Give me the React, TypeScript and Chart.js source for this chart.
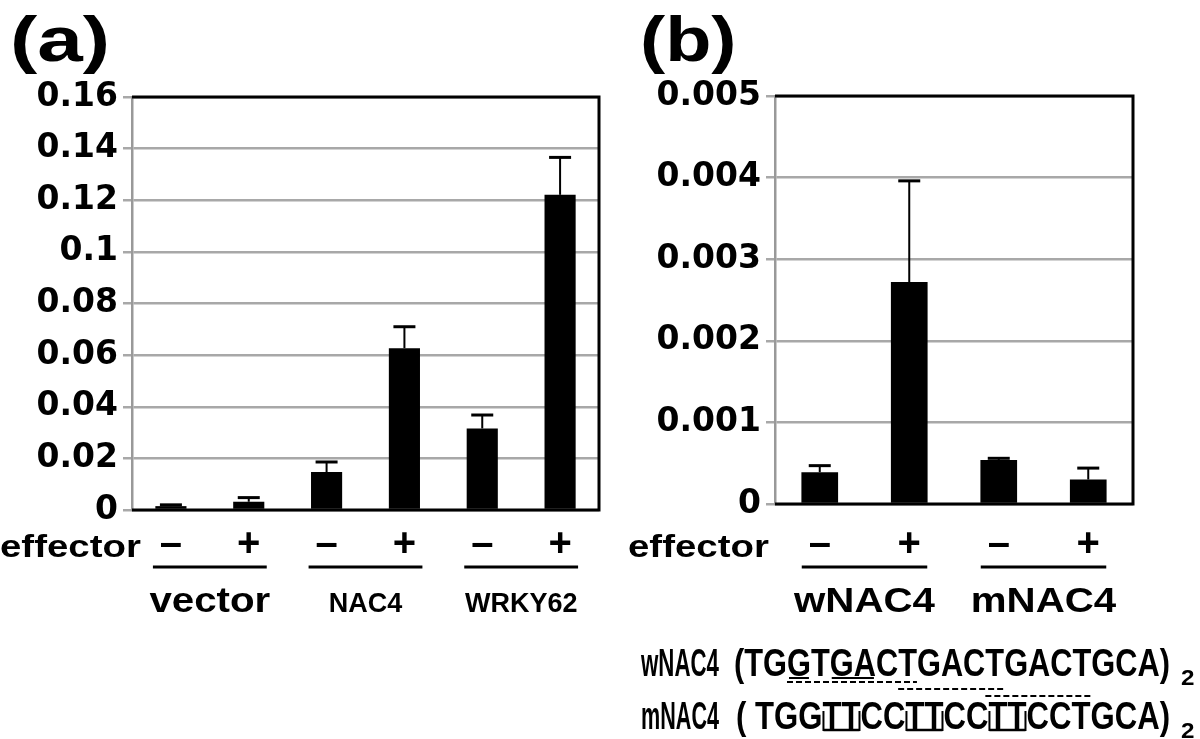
import React, { useEffect, useRef } from 'react';
import { Chart, registerables } from 'chart.js';

Chart.register(...registerables);

// ---------- data ----------
const signsA = ['–', '+', '–', '+', '–', '+'];
const valuesA = [0.0015, 0.0032, 0.0147, 0.0627, 0.0316, 0.1221];
const errorsA = [0.0005, 0.0016, 0.0039, 0.0083, 0.0052, 0.0145];
const groupsA = ['vector', 'NAC4', 'WRKY62'];
const yTicksA = [0, 0.02, 0.04, 0.06, 0.08, 0.1, 0.12, 0.14, 0.16];

const signsB = ['–', '+', '–', '+'];
const valuesB = [0.00039, 0.00272, 0.00054, 0.0003];
const errorsB = [0.00008, 0.00124, 0.00002, 0.00014];
const groupsB = ['wNAC4', 'mNAC4'];
const yTicksB = [0, 0.001, 0.002, 0.003, 0.004, 0.005];

const seqNames = ['wNAC4', 'mNAC4'];
const seqTexts = ['(TGGTGACTGACTGACTGCA)', '( TGGTTCCTTCCTTCCTGCA)'];
const seqRepeat = '2';

// ---------- styles ----------
const FONT = '"Liberation Sans", Arial, Helvetica, sans-serif';
const TICKFONT = '"DejaVu Sans", "Liberation Sans", sans-serif';
const GRID = '#a8a8a8';

function txt(
  ctx: CanvasRenderingContext2D,
  s: string,
  x: number,
  y: number,
  size: number,
  align: CanvasTextAlign = 'left',
  sx = 1,
  width?: number
) {
  ctx.save();
  ctx.font = `bold ${size}px ${FONT}`;
  ctx.textBaseline = 'alphabetic';
  ctx.textAlign = align;
  ctx.fillStyle = '#000';
  let scale = sx;
  if (width) scale = width / ctx.measureText(s).width;
  ctx.translate(x, y);
  ctx.scale(scale, 1);
  ctx.fillText(s, 0, 0);
  ctx.restore();
  return scale;
}

function measure(ctx: CanvasRenderingContext2D, s: string, size: number) {
  ctx.save();
  ctx.font = `bold ${size}px ${FONT}`;
  const w = ctx.measureText(s).width;
  ctx.restore();
  return w;
}

function line(ctx: CanvasRenderingContext2D, x0: number, y0: number, x1: number, y1: number, w: number, dash: number[] = []) {
  ctx.save();
  ctx.strokeStyle = '#000';
  ctx.lineWidth = w;
  ctx.setLineDash(dash);
  ctx.beginPath();
  ctx.moveTo(x0, y0);
  ctx.lineTo(x1, y1);
  ctx.stroke();
  ctx.restore();
}

function makePlugin(
  values: number[],
  errors: number[],
  groups: string[],
  groupSizes: number[],
  extra: (ctx: CanvasRenderingContext2D) => void
) {
  return {
    id: 'annot',
    afterDatasetsDraw(chart: any) {
      const { ctx, chartArea: a, scales } = chart;
      const x = scales.x;
      const y = scales.y;
      // error bars (upper only)
      values.forEach((v, i) => {
        const cx = x.getPixelForValue(i);
        const y0 = y.getPixelForValue(v);
        const y1 = y.getPixelForValue(v + errors[i]);
        line(ctx, cx, y0, cx, y1, 2);
        line(ctx, cx - 11, y1, cx + 11, y1, 3);
      });
      // black frame top / right / bottom
      ctx.save();
      ctx.strokeStyle = '#000';
      ctx.lineWidth = 3;
      ctx.beginPath();
      ctx.moveTo(a.left, a.top);
      ctx.lineTo(a.right, a.top);
      ctx.lineTo(a.right, a.bottom);
      ctx.lineTo(a.left, a.bottom);
      ctx.stroke();
      ctx.restore();
    },
    afterDraw(chart: any) {
      const { ctx, scales } = chart;
      const x = scales.x;
      groups.forEach((g, gi) => {
        const p0 = x.getPixelForValue(gi * 2);
        const p1 = x.getPixelForValue(gi * 2 + 1);
        const cx = (p0 + p1) / 2;
        const half = (p1 - p0) / 2 + 18;
        line(ctx, cx - half, 567, cx + half, 567, 3);
        txt(ctx, g, cx, 612, groupSizes[gi], 'center', groupSizes[gi] < 30 ? 1.0 : 1.15);
      });
      extra(ctx);
    },
  };
}

function yScale(ticks: number[], width: number) {
  return {
    min: ticks[0],
    max: ticks[ticks.length - 1],
    afterBuildTicks: (s: any) => {
      s.ticks = ticks.map((value) => ({ value }));
    },
    afterFit: (s: any) => {
      s.width = width;
    },
    grid: { color: GRID, lineWidth: 2.5, tickLength: 9, drawTicks: true, tickColor: GRID },
    border: { display: true, color: '#999', width: 2.5 },
    ticks: {
      color: '#000',
      padding: 5,
      font: { family: TICKFONT, size: 33, weight: 'bold' },
      callback: (v: any) => String(Number(Number(v).toFixed(3))),
    },
  };
}

function xScale(height: number, pad: number) {
  return {
    type: 'category',
    afterFit: (s: any) => {
      s.height = height;
    },
    grid: { display: false, drawTicks: false, tickLength: 0 },
    border: { display: false },
    ticks: {
      color: '#000',
      padding: pad,
      autoSkip: false,
      maxRotation: 0,
      font: { family: FONT, size: 40, weight: 'bold' },
    },
  };
}

const OFFB = 602;

export default function App() {
  const refA = useRef<HTMLCanvasElement>(null);
  const refB = useRef<HTMLCanvasElement>(null);

  useEffect(() => {
    const pluginA = makePlugin(valuesA, errorsA, groupsA, [35, 27, 27], (ctx) => {
      txt(ctx, '(a)', 10, 61, 63, 'left', 1.3);
      txt(ctx, 'effector', 0, 557, 32, 'left', 1.2);
    });
    const chartA = new Chart(refA.current as HTMLCanvasElement, {
      type: 'bar',
      data: {
        labels: signsA,
        datasets: [
          { data: valuesA, backgroundColor: '#000', borderWidth: 0, barPercentage: 0.4, categoryPercentage: 1 },
        ],
      },
      options: {
        responsive: false,
        animation: false,
        devicePixelRatio: 1,
        layout: { padding: { top: 97, right: 3, bottom: 0, left: 0 } },
        plugins: { legend: { display: false }, tooltip: { enabled: false }, title: { display: false } },
        scales: { x: xScale(229, 11) as any, y: yScale(yTicksA, 132) as any },
      },
      plugins: [pluginA],
    });

    const pluginB = makePlugin(valuesB, errorsB, groupsB, [35, 35], (ctx) => {
      txt(ctx, '(b)', 640 - OFFB, 61, 63, 'left', 1.2);
      txt(ctx, 'effector', 628 - OFFB, 557, 32, 'left', 1.2);
      // sequences
      const rows = [
        { base: 676, nameX: 641, seqX: 734, seqW: 436 },
        { base: 729, nameX: 641, seqX: 736, seqW: 434 },
      ];
      rows.forEach((r, ri) => {
        const s = seqTexts[ri];
        txt(ctx, seqNames[ri], r.nameX - OFFB, r.base, 39, 'left', 1, 78);
        const sx = txt(ctx, s, r.seqX - OFFB, r.base, 39, 'left', 1, r.seqW);
        txt(ctx, seqRepeat, 1181 - OFFB, r.base + 9, 22, 'left', 1.1);
        const pos = (i: number) => r.seqX - OFFB + measure(ctx, s.slice(0, i), 39) * sx;
        const off = s.indexOf('T');
        if (ri === 0) {
          // solid marks under changed bases
          line(ctx, pos(off + 2) + 2, r.base + 2, pos(off + 3) - 2, r.base + 2, 2);
          line(ctx, pos(off + 4) + 2, r.base + 2, pos(off + 6) - 2, r.base + 2, 2);
          // dashed motif lines
          line(ctx, pos(off + 2), r.base + 6, pos(off + 8), r.base + 6, 2, [6, 3]);
          line(ctx, pos(off + 7), r.base + 13, pos(off + 12), r.base + 13, 2, [6, 3]);
          line(ctx, pos(off + 11), r.base + 20, pos(off + 16), r.base + 20, 2, [6, 3]);
        } else {
          [3, 7, 11].forEach((k) => {
            const a = pos(off + k);
            const b = pos(off + k + 2);
            line(ctx, a + 1, r.base + 1, b - 1, r.base + 1, 2.5);
            line(ctx, a + 1, r.base - 18, a + 1, r.base + 2, 2);
            line(ctx, b - 1, r.base - 18, b - 1, r.base + 2, 2);
          });
        }
      });
    });
    const chartB = new Chart(refB.current as HTMLCanvasElement, {
      type: 'bar',
      data: {
        labels: signsB,
        datasets: [
          { data: valuesB, backgroundColor: '#000', borderWidth: 0, barPercentage: 0.41, categoryPercentage: 1 },
        ],
      },
      options: {
        responsive: false,
        animation: false,
        devicePixelRatio: 1,
        layout: { padding: { top: 96, right: 67, bottom: 0, left: 0 } },
        plugins: { legend: { display: false }, tooltip: { enabled: false }, title: { display: false } },
        scales: { x: xScale(235, 17) as any, y: yScale(yTicksB, 173) as any },
      },
      plugins: [pluginB],
    });

    return () => {
      chartA.destroy();
      chartB.destroy();
    };
  }, []);

  return (
    <div
      style={{
        position: 'absolute',
        left: 0,
        top: 0,
        width: 1200,
        height: 739,
        background: '#fff',
        overflow: 'hidden',
      }}
    >
      <canvas ref={refA} width={602} height={739} style={{ position: 'absolute', left: 0, top: 0 }} />
      <canvas ref={refB} width={598} height={739} style={{ position: 'absolute', left: OFFB, top: 0 }} />
    </div>
  );
}
